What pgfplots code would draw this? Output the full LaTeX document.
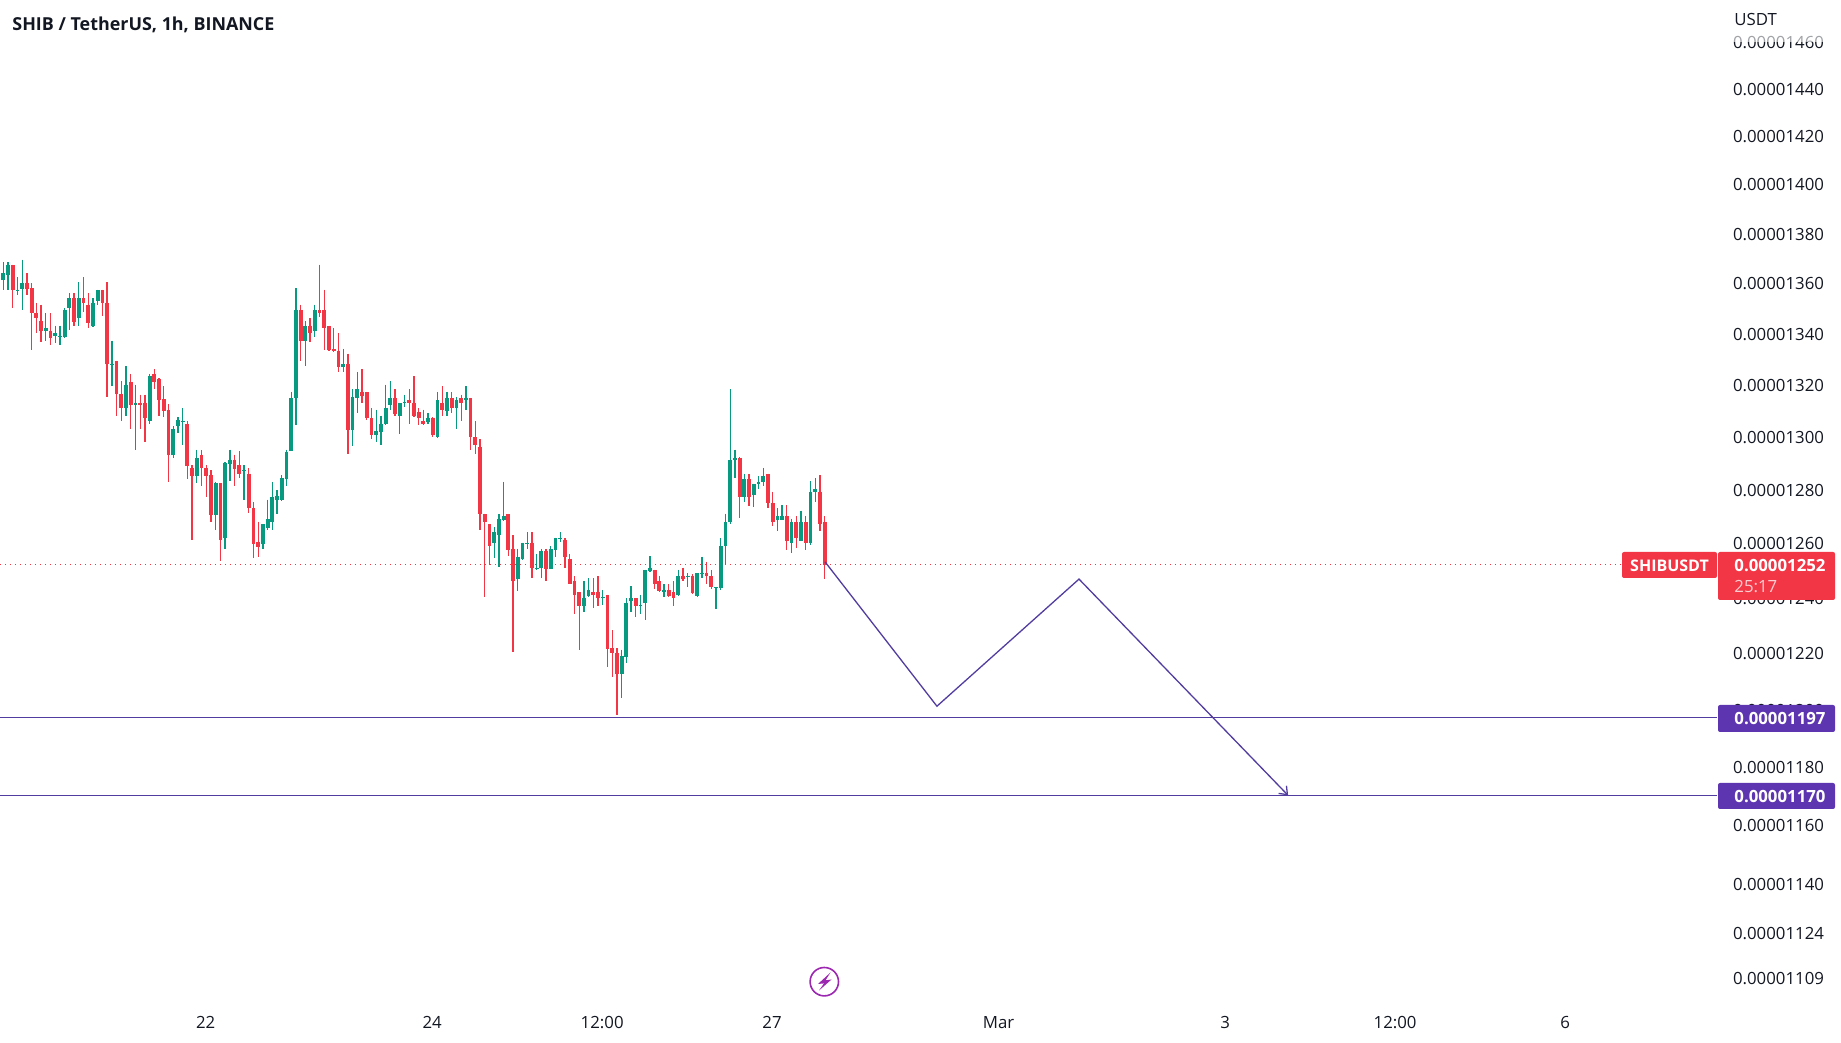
\documentclass[border=0pt]{standalone}
\usepackage{fontspec}
\setmainfont{Open Sans}
\usepackage{pgfplots}
\usepackage{pgfplotstable}
\pgfplotsset{compat=1.18}
\usetikzlibrary{arrows.meta}
\definecolor{upc}{HTML}{089981}
\definecolor{dnc}{HTML}{F23645}
\definecolor{pur}{HTML}{5E35B1}
\definecolor{lin}{HTML}{513C9F}
\definecolor{txt}{HTML}{131722}
\definecolor{bolt}{HTML}{9C27B0}
% hourly candles, prices in units of 0.00000001 USDT
\pgfplotstableread{
x o h l c
0 1361.0 1368.2 1357.3 1363.9
1 1363.1 1368.2 1357.3 1367.1
2 1367.1 1367.3 1349.9 1357.0
3 1357.0 1362.2 1355.3 1357.3
4 1357.7 1369.3 1349.3 1359.9
5 1359.9 1363.9 1355.3 1357.7
6 1357.9 1359.9 1333.3 1348.0
7 1348.0 1352.0 1340.1 1345.9
8 1344.7 1351.3 1336.5 1340.8
9 1340.7 1348.0 1337.1 1342.1
10 1341.0 1348.0 1335.2 1338.1
11 1338.8 1343.0 1336.2 1340.1
12 1338.8 1343.0 1335.2 1339.1
13 1338.5 1350.0 1338.1 1349.3
14 1349.8 1355.9 1341.2 1353.8
15 1353.9 1355.9 1343.0 1344.6
16 1345.9 1360.2 1343.0 1353.9
17 1353.9 1362.2 1348.2 1351.8
18 1351.3 1355.9 1342.2 1343.9
19 1342.7 1353.9 1342.5 1352.0
20 1352.9 1357.3 1351.3 1357.0
21 1357.0 1357.3 1346.9 1351.8
22 1352.0 1360.2 1315.0 1327.9
23 1327.9 1337.1 1319.3 1328.1
24 1329.2 1329.3 1308.0 1316.2
25 1316.4 1321.3 1306.1 1310.8
26 1310.8 1327.1 1308.0 1320.0
27 1321.0 1324.2 1303.0 1312.0
28 1312.0 1320.0 1295.0 1312.9
29 1312.9 1316.1 1302.9 1312.0
30 1313.0 1316.1 1298.0 1307.0
31 1305.8 1324.1 1304.9 1323.1
32 1324.1 1326.0 1318.1 1320.9
33 1322.2 1322.6 1308.0 1314.0
34 1314.3 1319.3 1307.4 1309.9
35 1310.2 1312.3 1282.9 1292.8
36 1292.8 1303.9 1291.9 1302.9
37 1303.9 1307.4 1301.4 1306.2
38 1305.8 1311.0 1296.9 1306.1
39 1304.9 1305.8 1284.0 1288.7
40 1288.1 1289.0 1261.2 1284.9
41 1284.9 1295.0 1282.2 1291.9
42 1293.1 1294.8 1281.2 1288.0
43 1288.2 1289.0 1277.1 1284.9
44 1285.2 1287.1 1267.9 1270.5
45 1270.5 1282.8 1264.9 1282.2
46 1282.2 1282.4 1253.2 1261.0
47 1261.8 1290.2 1257.9 1290.0
48 1289.7 1295.0 1283.0 1291.2
49 1291.2 1293.1 1281.2 1287.8
50 1289.0 1294.3 1284.2 1285.8
51 1287.0 1289.0 1276.1 1287.2
52 1285.9 1288.1 1271.1 1272.9
53 1273.1 1275.1 1254.4 1259.7
54 1260.2 1267.9 1254.8 1258.5
55 1259.7 1267.0 1257.9 1267.0
56 1265.5 1276.1 1264.9 1268.9
57 1267.6 1282.8 1264.9 1277.1
58 1275.9 1279.7 1270.9 1277.3
59 1275.9 1285.2 1275.7 1284.1
60 1283.7 1295.0 1281.2 1294.1
61 1294.6 1317.1 1294.3 1314.8
62 1314.7 1357.9 1304.2 1349.3
63 1349.3 1351.3 1329.3 1336.9
64 1336.9 1344.7 1327.1 1343.0
65 1343.0 1346.0 1336.6 1340.0
66 1340.8 1351.3 1338.4 1349.3
67 1349.3 1367.3 1346.3 1347.8
68 1349.3 1357.3 1333.3 1342.1
69 1342.9 1343.0 1333.2 1333.5
70 1333.9 1342.1 1332.8 1333.0
71 1333.2 1340.1 1325.0 1326.6
72 1326.6 1333.9 1325.0 1328.0
73 1328.0 1332.0 1293.4 1302.6
74 1302.6 1318.1 1296.3 1315.0
75 1314.7 1324.9 1309.0 1318.1
76 1317.1 1326.0 1312.9 1315.7
77 1317.1 1317.2 1306.2 1306.9
78 1307.2 1311.0 1299.2 1300.7
79 1300.7 1310.3 1298.0 1302.1
80 1301.9 1308.0 1296.9 1304.9
81 1304.6 1320.0 1304.3 1311.1
82 1312.0 1321.3 1310.3 1314.8
83 1314.8 1318.1 1307.8 1308.7
84 1307.8 1313.0 1301.1 1312.9
85 1312.9 1316.1 1311.2 1313.2
86 1314.0 1318.1 1304.9 1312.8
87 1312.9 1323.1 1307.5 1307.8
88 1309.2 1311.0 1304.2 1306.9
89 1305.9 1310.3 1304.4 1304.7
90 1305.7 1309.0 1304.9 1307.2
91 1307.2 1307.4 1299.8 1300.7
92 1299.8 1317.1 1299.6 1314.0
93 1312.9 1319.3 1308.0 1310.0
94 1309.9 1317.1 1308.0 1314.8
95 1314.8 1317.1 1309.0 1310.8
96 1310.8 1315.1 1303.0 1314.0
97 1314.8 1316.1 1306.1 1312.9
98 1313.9 1319.3 1310.3 1314.8
99 1314.8 1314.9 1295.0 1299.7
100 1299.8 1305.8 1293.4 1296.8
101 1296.0 1299.0 1264.9 1270.7
102 1270.6 1270.9 1240.1 1267.8
103 1267.0 1267.1 1251.7 1259.0
104 1259.8 1265.9 1254.4 1264.0
105 1262.8 1270.7 1251.0 1268.9
106 1268.5 1282.8 1268.0 1270.0
107 1270.7 1270.8 1255.0 1257.6
108 1257.8 1262.9 1220.2 1245.9
109 1246.7 1257.8 1242.2 1254.8
110 1254.1 1260.1 1253.8 1260.0
111 1259.8 1264.0 1257.8 1260.1
112 1260.0 1264.0 1247.0 1250.8
113 1250.7 1255.9 1250.2 1250.9
114 1250.7 1257.8 1247.0 1257.1
115 1257.1 1257.8 1246.1 1250.5
116 1250.5 1258.7 1250.4 1257.8
117 1257.6 1262.0 1254.8 1261.8
118 1261.7 1264.0 1260.2 1262.0
119 1261.1 1261.8 1250.9 1254.7
120 1254.1 1255.9 1244.7 1244.9
121 1246.0 1247.9 1234.1 1240.9
122 1241.9 1242.0 1221.1 1236.8
123 1236.8 1246.1 1234.9 1239.8
124 1240.4 1247.0 1240.2 1242.7
125 1242.0 1247.0 1236.1 1240.8
126 1242.0 1247.9 1237.0 1239.8
127 1239.7 1242.8 1237.2 1240.0
128 1240.9 1241.0 1214.9 1221.5
129 1221.7 1228.1 1211.3 1219.9
130 1219.9 1221.7 1198.0 1212.6
131 1212.6 1221.1 1203.9 1219.0
132 1218.6 1239.8 1216.4 1238.1
133 1238.5 1244.0 1234.9 1239.8
134 1239.8 1239.9 1233.0 1236.8
135 1236.9 1241.0 1234.1 1237.2
136 1238.0 1250.2 1232.0 1250.1
137 1249.6 1255.0 1249.2 1250.8
138 1250.1 1250.2 1243.1 1244.7
139 1246.0 1247.9 1242.0 1242.4
140 1241.9 1244.9 1240.0 1242.7
141 1242.7 1244.9 1240.1 1240.7
142 1241.9 1246.0 1237.0 1239.8
143 1240.8 1250.2 1240.7 1247.9
144 1247.8 1250.9 1246.0 1246.6
145 1247.8 1248.9 1243.8 1248.0
146 1247.9 1248.4 1241.3 1241.6
147 1240.7 1248.9 1240.1 1248.8
148 1248.8 1254.9 1247.1 1249.0
149 1248.9 1253.1 1245.0 1247.7
150 1247.9 1250.0 1243.0 1243.6
151 1243.6 1243.9 1235.8 1243.8
152 1243.5 1261.8 1242.6 1258.9
153 1258.7 1270.9 1252.0 1267.8
154 1267.6 1318.1 1267.1 1291.2
155 1291.0 1295.0 1284.3 1291.9
156 1291.9 1292.0 1269.3 1277.1
157 1277.1 1285.9 1275.1 1283.9
158 1283.9 1285.8 1273.9 1277.0
159 1277.7 1282.1 1273.4 1282.0
160 1281.9 1284.9 1280.2 1282.9
161 1282.8 1288.1 1281.2 1285.0
162 1285.8 1285.9 1273.2 1274.9
163 1274.9 1279.1 1266.2 1267.6
164 1268.6 1273.0 1264.3 1270.1
165 1268.6 1274.0 1268.5 1270.1
166 1270.0 1274.0 1257.3 1260.8
167 1259.8 1269.0 1256.3 1267.8
168 1267.8 1270.1 1258.0 1261.7
169 1260.8 1272.0 1260.7 1267.8
170 1267.8 1270.1 1257.4 1259.8
171 1259.8 1283.0 1259.1 1279.1
172 1278.9 1284.2 1275.2 1280.2
173 1279.1 1285.2 1264.3 1267.0
174 1267.8 1270.1 1246.8 1252.0
}\candles
\begin{document}
\begin{tikzpicture}[every node/.style={font=\fontsize{8.4pt}{10pt}\selectfont,text=txt}]
\path (0,-21.5pt) rectangle (920.5pt,500pt);
\begin{axis}[
  at={(0,0)},anchor=south west,
  scale only axis,width=858.5pt,height=500pt,
  ymode=log,log basis y=10,
  xmin=-0.7,xmax=363.07,ymin=1101.9,ymax=1477.9,
  axis line style={draw=none},
  tick style={draw=none},
  minor y tick num=0,
  xtick={43,91,127,163,211,259,295,331},
  xticklabels={22,24,12:00,27,Mar,3,12:00,6},
  xticklabel style={anchor=center,yshift=-11.5pt,xshift=-0.3pt,inner sep=0pt,outer sep=0pt},
  ytick={1109,1124,1140,1160,1180,1200,1220,1240,1260,1280,1300,1320,1340,1360,1380,1400,1420,1440,1460},
  yticklabels={0.00001109,0.00001124,0.00001140,0.00001160,0.00001180,0.00001200,0.00001220,0.00001240,0.00001260,0.00001280,0.00001300,0.00001320,0.00001340,0.00001360,0.00001380,0.00001400,0.00001420,0.00001440,0.00001460},
  yticklabel pos=right,
  yticklabel style={anchor=west,inner sep=0pt,outer sep=0pt,xshift=8pt,yshift=-0.5pt},
]
% reference lines
\addplot[dnc,line width=0.5pt,dotted,forget plot] coordinates {(-0.7,1252) (342.9,1252)};
\addplot[lin,line width=0.55pt,forget plot] coordinates {(-0.7,1197) (363.07,1197)};
\addplot[lin,line width=0.55pt,forget plot] coordinates {(-0.7,1170) (363.07,1170)};
% wicks, rising
\addplot[draw=none,mark=none,error bars/.cd,y dir=minus,y explicit,error mark=none,
  error bar style={line width=0.65pt,upc,solid}]
  table[x expr={\thisrow{c}>=\thisrow{o}?\thisrow{x}:nan},y=h,y error minus expr=\thisrow{h}-\thisrow{l}] {\candles};
% wicks, falling
\addplot[draw=none,mark=none,error bars/.cd,y dir=minus,y explicit,error mark=none,
  error bar style={line width=0.65pt,dnc,solid}]
  table[x expr={\thisrow{c}<\thisrow{o}?\thisrow{x}:nan},y=h,y error minus expr=\thisrow{h}-\thisrow{l}] {\candles};
% bodies, rising
\addplot[draw=none,mark=none,error bars/.cd,y dir=minus,y explicit,error mark=none,
  error bar style={line width=1.9pt,upc,solid}]
  table[x expr={\thisrow{c}>=\thisrow{o}?\thisrow{x}:nan},y=c,y error minus expr=\thisrow{c}-\thisrow{o}] {\candles};
% bodies, falling
\addplot[draw=none,mark=none,error bars/.cd,y dir=minus,y explicit,error mark=none,
  error bar style={line width=1.9pt,dnc,solid}]
  table[x expr={\thisrow{c}<\thisrow{o}?\thisrow{x}:nan},y=o,y error minus expr=\thisrow{o}-\thisrow{c}] {\candles};
% projected path
\addplot[lin,line width=0.65pt,-{Straight Barb[length=3.5pt,width=5.5pt]}] coordinates {(174.1,1253) (197.8,1201.0) (227.9,1246.7) (272.2,1170)};
\end{axis}
\begin{scope}[x=0.5pt,y=-0.5pt,shift={(0,500pt)}]
  \node[anchor=west,inner sep=0pt] at (12,25) {\fontsize{8.95pt}{10pt}\selectfont\bfseries SHIB / TetherUS, 1h, BINANCE};
  \node[anchor=west,inner sep=0pt] at (1734,20) {USDT};
  \fill[white,opacity=0.6] (1725,30) rectangle (1835,42);
  % price tags
  \fill[dnc,rounded corners=1pt] (1622,552) rectangle (1717,578);
  \node[text=white,inner sep=0pt] at (1669.5,566) {\fontsize{8pt}{10pt}\selectfont\bfseries SHIBUSDT};
  \fill[dnc,rounded corners=1pt] (1718,552) rectangle (1835,600);
  \node[anchor=west,text=white,inner sep=0pt] at (1734,566) {\bfseries 0.00001252};
  \node[anchor=west,text=white,inner sep=0pt,opacity=0.75] at (1734,587) {25:17};
  \fill[pur,rounded corners=1pt] (1718,705) rectangle (1835,732);
  \node[anchor=west,text=white,inner sep=0pt] at (1734,718.5) {\bfseries 0.00001197};
  \fill[pur,rounded corners=1pt] (1718,783) rectangle (1835,809);
  \node[anchor=west,text=white,inner sep=0pt] at (1734,796.5) {\bfseries 0.00001170};
  % bolt icon
  \draw[bolt,line width=0.8pt] (824.3,981.7) circle[radius=14.2];
  \fill[bolt] (830.5,972.5)--(818,984)--(824,983.4)--(819,990.5)--(831.5,979.5)--(825.5,980.3)--cycle;
\end{scope}
\end{tikzpicture}
\end{document}
